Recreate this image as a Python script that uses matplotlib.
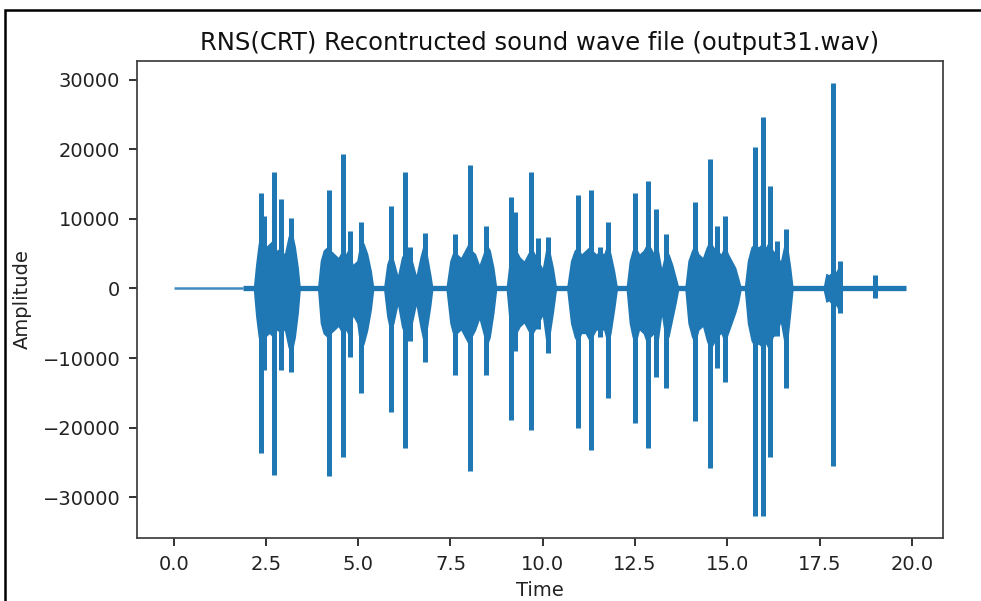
import numpy as np
import matplotlib
matplotlib.use("Agg")
import matplotlib.pyplot as plt
from matplotlib.patches import Rectangle

# quiet parts of the recording
quiet_thin = [0.0, 1.87]
quiet_thick = [1.87, 19.85]

# burst envelopes: time, upper, lower
b1_t = [2.16, 2.22, 2.29, 2.39, 2.49, 2.59, 2.69, 2.80, 2.90, 3.00, 3.10, 3.20, 3.30, 3.38, 3.43]
b1_up = [300, 3500, 6500, 7500, 6000, 6500, 7000, 5500, 6000, 5000, 7500, 8500, 6000, 3000, 300]
b1_lo = [-300, -4000, -7000, -8500, -7000, -6500, -7000, -6000, -6500, -6000, -8500, -9500, -7000, -3500, -300]

b2_t = [3.90, 3.97, 4.05, 4.15, 4.26, 4.36, 4.46, 4.56, 4.66, 4.76, 4.86, 4.96, 5.06, 5.16, 5.26, 5.36, 5.42]
b2_up = [300, 4000, 5500, 6000, 5500, 5000, 4500, 5500, 5000, 6000, 3500, 4000, 7000, 6500, 5000, 2500, 300]
b2_lo = [-300, -5000, -6500, -7000, -6500, -6000, -5500, -6500, -6000, -7000, -4000, -5000, -9000, -8000, -6000, -3000, -300]

b3_t = [5.69, 5.77, 5.87, 5.97, 6.07, 6.17, 6.27, 6.37, 6.47, 6.57, 6.67, 6.77, 6.87, 6.97, 7.02]
b3_up = [300, 3500, 5000, 4000, 2000, 4500, 5500, 5000, 4000, 2000, 4500, 6500, 5000, 2000, 300]
b3_lo = [-300, -4000, -6500, -5000, -2500, -5500, -7000, -6000, -5000, -2500, -5500, -8000, -6000, -2500, -300]

b4_t = [7.38, 7.48, 7.58, 7.68, 7.78, 7.88, 7.98, 8.08, 8.18, 8.28, 8.38, 8.48, 8.58, 8.68, 8.75]
b4_up = [300, 4000, 5500, 5000, 4500, 5500, 6500, 5500, 5000, 3500, 5000, 6500, 5500, 3000, 300]
b4_lo = [-300, -5000, -7000, -6500, -6000, -7000, -8000, -7000, -6000, -4500, -6500, -8500, -7000, -3500, -300]

b5_t = [9.01, 9.09, 9.19, 9.29, 9.39, 9.49, 9.59, 9.69, 9.79, 9.89, 9.99, 10.09, 10.19, 10.29, 10.37]
b5_up = [300, 4000, 6000, 5500, 4500, 4000, 5000, 6000, 5000, 4000, 3000, 6000, 5500, 3000, 300]
b5_lo = [-300, -5000, -7500, -6500, -5500, -5000, -6000, -7000, -6000, -5000, -4000, -8000, -7000, -3500, -300]

b6_t = [10.65, 10.75, 10.85, 10.95, 11.05, 11.15, 11.25, 11.35, 11.45, 11.55, 11.65, 11.75, 11.85, 11.95, 12.02]
b6_up = [300, 4000, 5500, 6000, 5000, 5500, 6000, 5500, 5000, 5500, 5000, 6500, 5000, 2500, 300]
b6_lo = [-300, -5000, -7000, -8000, -6500, -6500, -7500, -7000, -6000, -6000, -6000, -8000, -6500, -3000, -300]

b7_t = [12.26, 12.34, 12.42, 12.52, 12.62, 12.72, 12.82, 12.92, 13.02, 13.12, 13.22, 13.32, 13.42, 13.52, 13.62, 13.68]
b7_up = [300, 4000, 5500, 6000, 5000, 5500, 6500, 6000, 5000, 6000, 3000, 5500, 5000, 3500, 1500, 300]
b7_lo = [-300, -5000, -7000, -8000, -6000, -6500, -8000, -7000, -6500, -8000, -4000, -7500, -7000, -4500, -2000, -300]

b8_t = [13.85, 13.93, 14.03, 14.13, 14.23, 14.33, 14.43, 14.53, 14.63, 14.73, 14.83, 14.93, 15.03, 15.13, 15.23, 15.31, 15.37]
b8_up = [300, 4000, 5500, 6500, 5000, 4500, 6000, 7000, 6000, 5500, 5000, 6500, 5000, 4000, 3000, 1500, 300]
b8_lo = [-300, -5000, -7000, -8000, -6000, -5500, -7500, -9000, -8000, -7000, -6500, -8000, -6500, -5000, -3500, -2000, -300]

b9_t = [15.46, 15.54, 15.64, 15.74, 15.84, 15.94, 16.04, 16.14, 16.24, 16.34, 16.44, 16.54, 16.64, 16.72, 16.78]
b9_up = [300, 4000, 6000, 6500, 6000, 6500, 6000, 7000, 5500, 5000, 4000, 6500, 6000, 3000, 300]
b9_lo = [-300, -5000, -7500, -8500, -8000, -8500, -8000, -9000, -7000, -6500, -5000, -8000, -7500, -3500, -300]

b10_t = [17.60, 17.67, 17.75, 17.85, 17.95, 18.03, 18.10]
b10_up = [300, 2200, 2000, 2500, 2500, 3500, 300]
b10_lo = [-300, -2000, -1800, -2500, -2500, -3500, -300]

# single peaks (time, max, min)
spike_t = [2.37, 2.46, 2.71, 2.92, 3.19,
           4.21, 4.59, 4.77, 5.08,
           5.90, 6.26, 6.40, 6.80,
           7.62, 8.02, 8.47,
           9.15, 9.25, 9.69, 9.87, 10.14,
           10.95, 11.32, 11.54, 11.77,
           12.49, 12.85, 13.07, 13.35,
           14.12, 14.52, 14.71, 14.93,
           15.74, 15.97, 16.16, 16.34, 16.60,
           17.87, 18.05, 18.99]
spike_max = [13800, 10400, 16700, 12800, 10200,
             14200, 19300, 8200, 9600,
             11800, 16800, 6000, 8000,
             7800, 17800, 9000,
             13100, 11000, 16700, 7300, 7400,
             13500, 14200, 5900, 9600,
             13800, 15400, 11400, 7800,
             12400, 18600, 9000, 10400,
             20400, 24700, 14700, 6800, 8500,
             29600, 3900, 2000]
spike_min = [-23600, -11700, -26800, -11700, -12000,
             -27000, -24300, -9800, -15000,
             -17800, -22900, -7500, -10600,
             -12400, -26300, -12400,
             -18900, -9000, -20300, -5800, -9300,
             -20000, -23200, -7000, -15700,
             -19300, -22900, -12800, -14300,
             -19100, -25800, -11400, -13500,
             -32768, -32768, -24200, -6900, -14300,
             -25600, -3500, -1300]

bursts = [(b1_t, b1_up, b1_lo), (b2_t, b2_up, b2_lo), (b3_t, b3_up, b3_lo),
          (b4_t, b4_up, b4_lo), (b5_t, b5_up, b5_lo), (b6_t, b6_up, b6_lo),
          (b7_t, b7_up, b7_lo), (b8_t, b8_up, b8_lo), (b9_t, b9_up, b9_lo),
          (b10_t, b10_up, b10_lo)]

blue = '#1f77b4'

fig = plt.figure(figsize=(9.81, 6.01), dpi=100)
ax = fig.add_axes([137 / 981, 1 - 538 / 601, (943 - 137) / 981, (538 - 61) / 601])

ax.plot(quiet_thin, [0, 0], color=blue, lw=1.8, alpha=0.85, solid_capstyle='butt')
ax.plot(quiet_thick, [0, 0], color=blue, lw=3.8, solid_capstyle='butt')
for bt, bu, bl in bursts:
    ax.fill_between(bt, bl, bu, color=blue, lw=0)
ax.vlines(spike_t, spike_min, spike_max, color=blue, lw=3.6)

ax.set_xticks(np.arange(0, 20.1, 2.5))
ax.set_yticks(np.arange(-30000, 30001, 10000))
ax.tick_params(labelsize=14, length=6, width=1.3, colors='#222222', pad=6)
for s in ax.spines.values():
    s.set_linewidth(1.3)
    s.set_color('#444444')

ax.set_title('RNS(CRT) Recontructed sound wave file (output31.wav)', fontsize=17.5, pad=8, color='#111111')
ax.set_xlabel('Time', fontsize=14, labelpad=5, color='#222222')
ax.set_ylabel('Amplitude', fontsize=14, labelpad=8, color='#222222')

# screenshot frame
fig.patches.append(Rectangle((5 / 981, -0.05), 1.1, 1 - 10 / 601 + 0.05,
                             transform=fig.transFigure, fill=False,
                             edgecolor='black', lw=1.8))

plt.savefig('out.png', dpi=100)
